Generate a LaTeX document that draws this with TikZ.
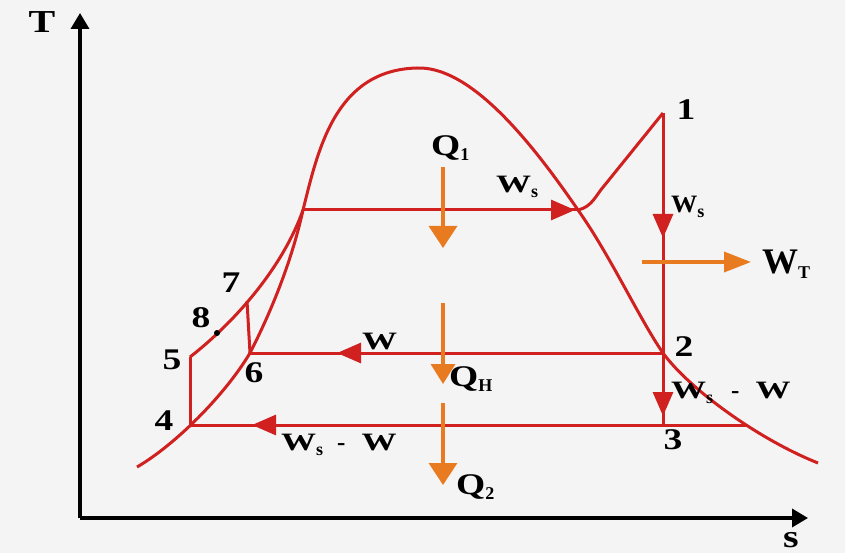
\documentclass[tikz,border=0pt]{standalone}
\usepackage{fontspec}
\setmainfont{Liberation Serif}
\usetikzlibrary{arrows.meta}
\definecolor{cyc}{RGB}{208,32,32}
\definecolor{heat}{RGB}{232,122,32}
\definecolor{bg}{RGB}{244,244,244}
\newcommand{\wide}[2][1.25]{\scalebox{#1}[1]{#2}}
\newcommand{\sub}[1]{\raisebox{-5pt}{\fontsize{18}{18}\selectfont\bfseries #1}}
\newcommand{\wW}{\wide[1.4]{W}}
\begin{document}
\begin{tikzpicture}[x=1pt,y=-1pt,
  cycline/.style={draw=cyc,line width=3pt,line join=round},
  axisline/.style={draw=black,line width=3.5pt,-{Triangle[length=16pt,width=18pt]}},
  redhead/.style={draw=cyc,fill=cyc,line width=3pt,-{Triangle[length=24pt,width=20pt]}},
  heatarrow/.style={draw=heat,line width=3.5pt,-{Triangle[length=22pt,width=28pt]}},
  lbl/.style={font=\fontsize{30}{32}\selectfont\bfseries,inner sep=0pt},
  wlbl/.style={font=\fontsize{25}{27}\selectfont\bfseries,inner sep=0pt,anchor=base west},
  qlbl/.style={font=\fontsize{30}{32}\selectfont\bfseries,inner sep=0pt,anchor=base west}]
\fill[bg] (0,0) rectangle (845,553);
\useasboundingbox (0,0) rectangle (845,553);

% state points
\coordinate (p1) at (663,113);
\coordinate (p2) at (663,353);
\coordinate (p3) at (663,425);
\coordinate (p4) at (190,425);
\coordinate (p5) at (190,357);
\coordinate (p6) at (250,353);
\coordinate (p7) at (247,301);
\coordinate (p8) at (217,333);
\coordinate (pa) at (303,210);
\coordinate (pb) at (578,210);
\coordinate (pc) at (746,425);
\coordinate (top) at (417,68);
\coordinate (d0) at (137,467);
\coordinate (d1) at (818,463);

% axes
\coordinate (o) at (80,518);
\coordinate (ty) at (80,13);
\coordinate (sx) at (808,518);
\draw[axisline] (o) -- (ty);
\draw[axisline] (o) -- (sx);
\node[font=\fontsize{32}{34}\selectfont\bfseries,inner sep=0pt] (T) at (42,22) {\wide{T}};
\node[font=\fontsize{32}{34}\selectfont\bfseries,inner sep=0pt] (S) at (791,540) {\wide{s}};

% saturation dome
\draw[cycline] (d0) .. controls (175,445) and (225,395) .. (p6)
  .. controls (272,310) and (292,260) .. (pa)
  .. controls (318,150) and (335,70) .. (top)
  .. controls (470,66) and (530,140) .. (pb)
  .. controls (610,255) and (640,320) .. (p2)
  .. controls (690,390) and (760,440) .. (d1);
% compressed liquid line 5-8-7
\draw[cycline] (p5) .. controls (225,330) and (280,275) .. (pa);

% cycle lines
\draw[cycline] (pa) -- (pb);
\draw[cycline] (pb) .. controls (592,207) and (596,195) .. (604,186) -- (p1);
\draw[cycline] (p1) -- (p3);
\draw[cycline] (p2) -- (p6);
\draw[cycline] (pc) -- (p4);
\draw[cycline] (p4) -- (p5);
\draw[cycline] (p7) -- (p6);
\fill[black] (p8) circle (3);

% red arrowheads
\draw[redhead] (540,210) -- (575,210);
\draw[redhead] (663,200) -- (663,238);
\draw[redhead] (663,380) -- (663,416);
\draw[redhead] (380,353) -- (337,353);
\draw[redhead] (300,425) -- (252,425);

% heat / work arrows
\draw[heatarrow] (443,167) -- (443,248);
\draw[heatarrow,-{Triangle[length=20pt,width=24pt]}] (443,303) -- (443,384);
\draw[heatarrow] (443,403) -- (443,485);
\draw[heatarrow,-{Triangle[length=27pt,width=20pt]}] (642,262) -- (751,262);

% point labels
\node[lbl] (l1) at (686,110) {\wide{1}};
\node[lbl] (l2) at (684,347) {\wide{2}};
\node[lbl] (l3) at (673,440) {\wide{3}};
\node[lbl] (l4) at (164,421) {\wide{4}};
\node[lbl] (l5) at (172,360) {\wide{5}};
\node[lbl] (l6) at (254,373) {\wide{6}};
\node[lbl] (l7) at (231,283) {\wide{7}};
\node[lbl] (l8) at (201,318) {\wide{8}};

% heat labels
\node[qlbl] (q1) at (431,156) {\wide{Q}\sub{1}};
\node[qlbl] (qh) at (449,386) {\wide{Q}\sub{H}};
\node[qlbl] (q2) at (456,494) {\wide{Q}\sub{2}};

% work labels
\node[wlbl] (ws1) at (496,193) {\wW\sub{s}};
\node[wlbl] (ws2) at (671,213) {\wide[1.05]{W}\sub{s}};
\node[wlbl] (w1) at (362,349) {\wW};
\node[wlbl] (wsw1) at (281,450) {\wW\sub{s}\hspace{14pt}-\hspace{16pt}\wW};
\node[wlbl] (wsw2) at (671,398) {\wW\sub{s}\hspace{18pt}-\hspace{16pt}\wW};
\node[font=\fontsize{36}{38}\selectfont\bfseries,inner sep=0pt,anchor=base west] (wt) at (762,273) {W\sub{T}};
\end{tikzpicture}
\end{document}
